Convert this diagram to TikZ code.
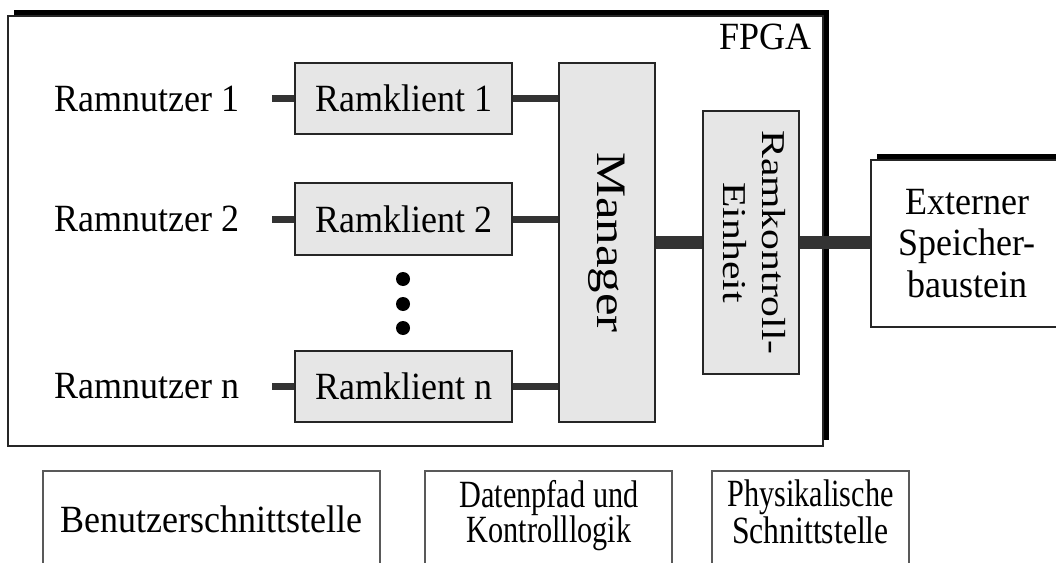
\documentclass[tikz,border=0pt]{standalone}
\usepackage{fontspec}
\setmainfont{Liberation Serif}
\usetikzlibrary{shadows,fit}
\definecolor{unitfill}{HTML}{E6E6E6}
\definecolor{wire}{HTML}{333333}

\begin{document}
\begin{tikzpicture}[x=0.75pt,y=-0.75pt,
  every node/.style={font=\fontsize{27pt}{32pt}\selectfont, inner sep=0pt},
  txt/.style={yscale=1.07},
  hardshadow/.style={drop shadow={shadow xshift=4.5pt, shadow yshift=4.5pt,
      fill=black, draw=none, opacity=1}},
  chip/.style={draw=black!85, line width=1.3pt, fill=white, hardshadow},
  unit/.style={draw=black!85, line width=1.2pt, fill=unitfill},
  layer/.style={draw=black!65, line width=1.2pt},
  narrow/.style={txt, align=center, font=\fontsize{27pt}{24.5pt}\selectfont},
  user/.style={txt, anchor=east, inner xsep=24pt},
  wire/.style={draw=wire, line width=5.25pt},
  bus/.style={draw=wire, line width=9.75pt},
  dot/.style={circle, fill=black, minimum size=10.5pt},
]
\useasboundingbox (0,0) rectangle (1056,563);
\clip (0,0) rectangle (1056,563);

% FPGA frame and external memory chip
\node[chip, fit={(8,16) (823,446)}] (fpga) {};
\node[txt, anchor=base east] (fpgalabel) at (812,50) {FPGA};
\node[chip, fit={(871,160) (1080,327)}] (ext) {};
\node[txt, align=center, font=\fontsize{27pt}{29pt}\selectfont] (exttext) at (967,243.5)
  {Externer\\Speicher-\\baustein};

% memory users and their clients
\node[user] (u1) at (272,98.5) {Ramnutzer 1};
\node[user] (u2) at (272,219) {Ramnutzer 2};
\node[user] (un) at (272,386.5) {Ramnutzer n};

\node[unit, fit={(295,63) (512,134)}] (k1) {};
\node[unit, fit={(295,183) (512,255)}] (k2) {};
\node[unit, fit={(295,351) (512,422)}] (kn) {};
\node[txt] (k1text) at (k1.center) {Ramklient 1};
\node[txt] (k2text) at (k2.center) {Ramklient 2};
\node[txt] (kntext) at (kn.center) {Ramklient n};

\node[dot] (d1) at (403,279) {};
\node[dot] (d2) at (403,304) {};
\node[dot] (d3) at (403,328) {};

% arbiter and memory controller
\node[unit, fit={(559,63) (655,422)}] (mgr) {};
\node[rotate=-90] (mgrtext) at (mgr.center)
  {\scalebox{1.21}[1]{\fontsize{31.5pt}{36pt}\selectfont Manager}};
\node[unit, fit={(703,111) (799,374)}] (ctl) {};
\node[rotate=-90] (ctltext) at (ctl.center)
  {\scalebox{1.25}[1]{\fontsize{25pt}{29pt}\selectfont
   \begin{tabular}{@{}c@{}}Ramkontroll-\\Einheit\end{tabular}}};

% connections
\draw[wire] (u1.east) -- (k1.west);
\draw[wire] (u2.east) -- (k2.west);
\draw[wire] (un.east) -- (kn.west);
\draw[wire] (k1.east) -- (k1.east -| mgr.west);
\draw[wire] (k2.east) -- (k2.east -| mgr.west);
\draw[wire] (kn.east) -- (kn.east -| mgr.west);
\draw[bus] (mgr.east) -- (ctl.west);
\draw[bus] (ctl.east) -- (ctl.east -| ext.west);

% interface layers
\node[layer, fit={(43,471) (380,580)}] (l1) {};
\node[txt, anchor=base] (l1text) at (211.5,532) {Benutzerschnittstelle};
\node[layer, fit={(425,471) (672,580)}] (l2) {};
\node[narrow] (l2text) at (549,516)
  {\scalebox{0.84}[1]{Datenpfad und}\\\scalebox{0.84}[1]{Kontrolllogik}};
\node[layer, fit={(712,471) (909,580)}] (l3) {};
\node[narrow] (l3text) at (810.5,512)
  {\scalebox{0.84}[1]{Physikalische}\\\scalebox{0.88}[1]{Schnittstelle}};
\end{tikzpicture}
\end{document}
